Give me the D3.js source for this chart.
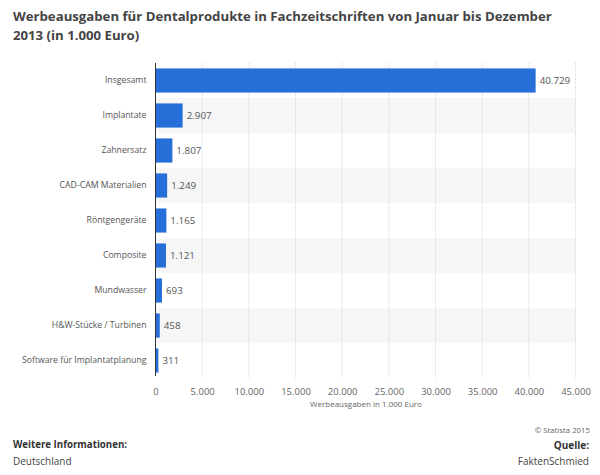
<!DOCTYPE html>
<html><head><meta charset="utf-8">
<script src="https://cdn.jsdelivr.net/npm/d3@7"></script>
<style>body{margin:0;background:#fff;font-family:"Open Sans",sans-serif;}</style>
</head><body><div id="chart"></div>
<script>
const categories = ["Insgesamt","Implantate","Zahnersatz","CAD-CAM Materialien","Röntgengeräte","Composite","Mundwasser","H&W-Stücke / Turbinen","Software für Implantatplanung"];
const values = [40729,2907,1807,1249,1165,1121,693,458,311];
const tickValues = [0,5000,10000,15000,20000,25000,30000,35000,40000,45000];
const titleLines = ["Werbeausgaben für Dentalprodukte in Fachzeitschriften von Januar bis Dezember","2013 (in 1.000 Euro)"];

const W=600,H=475;
const svg=d3.select("#chart").append("svg").attr("width",W).attr("height",H);
const fmt=d3.formatLocale({decimal:",",thousands:".",grouping:[3],currency:["","€"]}).format(",.0f");

const x=d3.scaleLinear().domain([0,45000]).range([155.5,575.5]);
const y=d3.scaleBand().domain(categories).range([63,378]).paddingInner(0.31).paddingOuter(0.155);
const yRow=d3.scaleBand().domain(categories).range([63,378]);

// stripes
svg.append("g").selectAll("rect").data(categories.filter((d,i)=>i%2===1)).join("rect")
 .attr("x",155.5).attr("width",420).attr("y",d=>yRow(d)).attr("height",yRow.bandwidth()).attr("fill","#f6f6f6");

// grid
svg.append("g").selectAll("line").data(tickValues.filter(d=>d>0)).join("line")
 .attr("x1",d=>x(d)).attr("x2",d=>x(d)).attr("y1",63).attr("y2",378)
 .attr("stroke","#d8d8d8").attr("stroke-dasharray","1,1");

// bars
svg.append("g").selectAll("rect").data(values).join("rect")
 .attr("x",x(0)).attr("y",(d,i)=>y(categories[i])).attr("height",y.bandwidth())
 .attr("width",d=>x(d)-x(0)).attr("fill","#276fd8");

// value labels
svg.append("g").selectAll("text").data(values).join("text")
 .attr("x",d=>x(d)+4).attr("y",(d,i)=>y(categories[i])+y.bandwidth()/2).attr("dy","0.35em")
 .attr("font-size",9.8).attr("fill","#555").text(d=>fmt(d));

// y axis
const yAxis=svg.append("g").attr("transform","translate(155.5,0)")
 .call(d3.axisLeft(yRow).tickSize(0).tickPadding(9));
yAxis.select(".domain").attr("stroke","#333").attr("d","M0,63V376");
yAxis.selectAll("text").attr("font-size",8.7).attr("fill","#555").attr("font-family","Open Sans, sans-serif");

// x axis
const xAxis=svg.append("g").attr("transform","translate(0,378)")
 .call(d3.axisBottom(x).tickValues(tickValues).tickFormat(fmt).tickSize(0).tickPadding(10));
xAxis.select(".domain").remove();
xAxis.selectAll("text").attr("font-size",9.5).attr("fill","#666").attr("font-family","Open Sans, sans-serif");

svg.append("text").attr("x",366).attr("y",407).attr("text-anchor","middle")
 .attr("font-size",8).attr("fill","#666").text("Werbeausgaben in 1.000 Euro");

// title
svg.append("g").selectAll("text").data(titleLines).join("text")
 .attr("x",13).attr("y",(d,i)=>21+i*19).attr("font-size",13.2).attr("font-weight","bold").attr("fill","#444").text(d=>d);

// footer
svg.append("text").attr("x",590).attr("y",433).attr("text-anchor","end").attr("font-size",7.8).attr("fill","#666").text("© Statista 2015");
svg.append("text").attr("x",13).attr("y",448).attr("font-size",9.7).attr("font-weight","bold").attr("fill","#333").text("Weitere Informationen:");
svg.append("text").attr("x",13).attr("y",465).attr("font-size",10).attr("fill","#444").text("Deutschland");
svg.append("text").attr("x",589).attr("y",449).attr("text-anchor","end").attr("font-size",10).attr("font-weight","bold").attr("fill","#333").text("Quelle:");
svg.append("text").attr("x",589).attr("y",465).attr("text-anchor","end").attr("font-size",10).attr("fill","#444").text("FaktenSchmied");
</script></body></html>
